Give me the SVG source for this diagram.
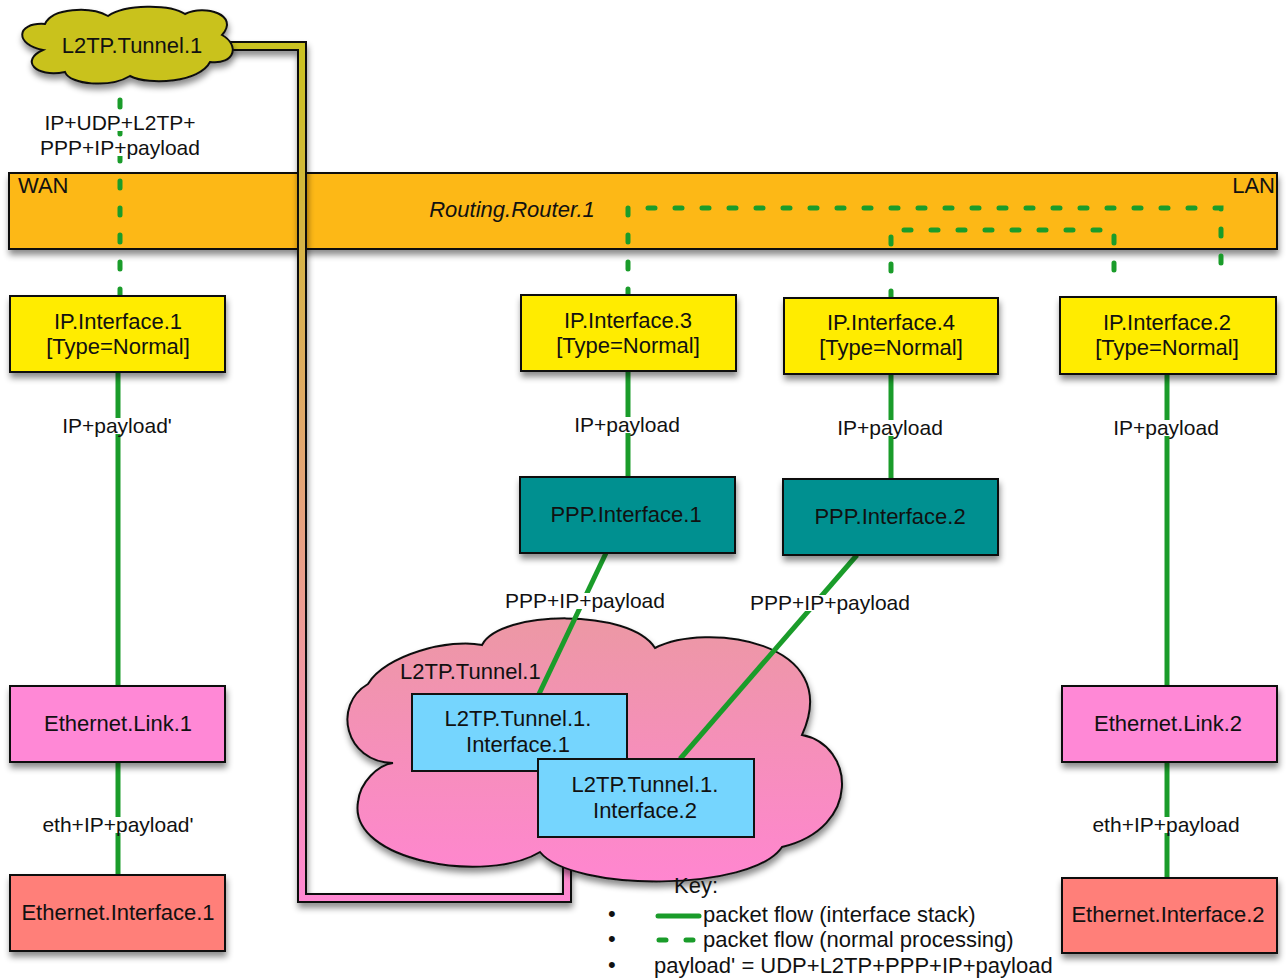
<svg xmlns="http://www.w3.org/2000/svg" width="1286" height="980" viewBox="0 0 1286 980">
<defs>
<filter id="sh" x="-10%" y="-10%" width="130%" height="140%">
<feDropShadow dx="1" dy="5" stdDeviation="3" flood-color="#000" flood-opacity="0.45"/>
</filter>
<linearGradient id="pipeG" gradientUnits="userSpaceOnUse" x1="0" y1="40" x2="0" y2="900">
<stop offset="0" stop-color="#c9c21f"/>
<stop offset="0.45" stop-color="#e0a86a"/>
<stop offset="1" stop-color="#ff88d2"/>
</linearGradient>
<linearGradient id="cloudG" x1="0" y1="0" x2="0" y2="1">
<stop offset="0" stop-color="#ec98a4"/>
<stop offset="1" stop-color="#ff86d0"/>
</linearGradient>
<style>
text{font-family:"Liberation Sans",Arial,Helvetica,sans-serif;fill:#111;}
.t{font-size:22px;text-anchor:middle;}
.l{font-size:21px;text-anchor:middle;}
.k{font-size:22px;}
.box{stroke:#111;stroke-width:2;filter:url(#sh);}
.ip{fill:#ffec00;}
.ppp{fill:#009090;}
.link{fill:#ff88d6;}
.eif{fill:#ff7f79;}
.tun{fill:#75d5fe;stroke:#111;stroke-width:2;}
.solid{stroke:#1a9c2a;stroke-width:5;fill:none;stroke-linecap:butt;}
.dash{stroke:#1a9c2a;stroke-width:5;fill:none;stroke-linecap:round;stroke-dasharray:7 20;}
.bg{fill:#fff;}
</style>
</defs>
<rect width="1286" height="980" fill="#fff"/>

<g id="router">
<rect x="9" y="173" width="1268" height="76" fill="#fdb814" stroke="#111" stroke-width="2" filter="url(#sh)"/>
<text class="k" x="18" y="193" font-size="21">WAN</text>
<text class="k" x="1275" y="193" text-anchor="end">LAN</text>
<text class="k" x="512" y="217" text-anchor="middle" font-style="italic">Routing.Router.1</text>
</g>

<g id="pipe" filter="url(#sh)">
<path d="M215,46 H302 V898 H567 V850" fill="none" stroke="#111" stroke-width="10" stroke-linejoin="miter"/>
<path d="M215,46 H302 V898 H567 V850" fill="none" stroke="url(#pipeG)" stroke-width="6" stroke-linejoin="miter"/>
</g>

<g id="tunnel">
<path d="M393,763 C345,762 332,705 368,684 C385,655 450,638 482,645 C500,610 630,608 655,648 C705,622 845,640 802,735 C855,745 862,828 782,847 C752,892 572,892 540,852 C488,884 348,862 358,802 C360,782 378,765 393,763 Z" fill="url(#cloudG)" stroke="#111" stroke-width="2" filter="url(#sh)"/>
<text class="k" x="400" y="679">L2TP.Tunnel.1</text>
</g>

<g id="connectors">
<path class="dash" d="M120,100 V296"/>
<path class="dash" d="M628,296 V208 H1221 V280"/>
<path class="dash" d="M891,298 V230 H1114 V278"/>
<path class="solid" d="M118,372 V686"/>
<path class="solid" d="M118,762 V875"/>
<path class="solid" d="M628,372 V477"/>
<path class="solid" d="M891,374 V479"/>
<path class="solid" d="M1167,374 V686"/>
<path class="solid" d="M1167,762 V878"/>
<path class="solid" d="M606,553 L539,694"/>
<path class="solid" d="M857,555 L680,759"/>
<rect class="bg" x="36" y="115" width="168" height="16"/>
<rect class="bg" x="32" y="140" width="176" height="16"/>
<text class="l" x="120" y="130">IP+UDP+L2TP+</text>
<text class="l" x="120" y="155">PPP+IP+payload</text>
<rect class="bg" x="61" y="418" width="114" height="16"/>
<text class="l" x="117" y="433">IP+payload'</text>
<rect class="bg" x="43" y="817" width="152" height="16"/>
<text class="l" x="118" y="832">eth+IP+payload'</text>
<rect class="bg" x="574" y="417" width="106" height="16"/>
<text class="l" x="627" y="432">IP+payload</text>
<rect class="bg" x="837" y="420" width="106" height="16"/>
<text class="l" x="890" y="435">IP+payload</text>
<rect class="bg" x="1113" y="420" width="106" height="16"/>
<text class="l" x="1166" y="435">IP+payload</text>
<rect class="bg" x="1092" y="817" width="148" height="16"/>
<text class="l" x="1166" y="832">eth+IP+payload</text>
<rect class="bg" x="503" y="593" width="164" height="16"/>
<text class="l" x="585" y="608">PPP+IP+payload</text>
<rect class="bg" x="748" y="595" width="164" height="16"/>
<text class="l" x="830" y="610">PPP+IP+payload</text>
</g>

<g id="tunnel-top">
<path d="M43,50 C15,45 15,22 45,24 C52,8 90,6 108,16 C125,4 170,4 185,14 C205,4 240,15 222,35 C240,45 235,65 210,62 C200,82 150,86 130,76 C110,88 70,85 65,72 C35,78 20,60 43,50 Z" fill="#c9c21f" stroke="#111" stroke-width="2" filter="url(#sh)"/>
<text class="t" x="132" y="53">L2TP.Tunnel.1</text>
</g>

<g id="ip1"><rect class="box ip" x="10" y="296" width="215" height="76"/>
<text class="t" x="118" y="329">IP.Interface.1</text><text class="t" x="118" y="354">[Type=Normal]</text></g>
<g id="ip3"><rect class="box ip" x="521" y="295" width="215" height="76"/>
<text class="t" x="628" y="328">IP.Interface.3</text><text class="t" x="628" y="353">[Type=Normal]</text></g>
<g id="ip4"><rect class="box ip" x="784" y="298" width="214" height="76"/>
<text class="t" x="891" y="330">IP.Interface.4</text><text class="t" x="891" y="355">[Type=Normal]</text></g>
<g id="ip2"><rect class="box ip" x="1060" y="297" width="216" height="77"/>
<text class="t" x="1167" y="330">IP.Interface.2</text><text class="t" x="1167" y="355">[Type=Normal]</text></g>

<g id="ppp1"><rect class="box ppp" x="520" y="477" width="215" height="76"/>
<text class="t" x="626" y="522">PPP.Interface.1</text></g>
<g id="ppp2"><rect class="box ppp" x="783" y="479" width="215" height="76"/>
<text class="t" x="890" y="524">PPP.Interface.2</text></g>

<g id="link1"><rect class="box link" x="10" y="686" width="215" height="76"/>
<text class="t" x="118" y="731">Ethernet.Link.1</text></g>
<g id="link2"><rect class="box link" x="1062" y="686" width="215" height="76"/>
<text class="t" x="1168" y="731">Ethernet.Link.2</text></g>
<g id="eif1"><rect class="box eif" x="10" y="875" width="215" height="76"/>
<text class="t" x="118" y="920">Ethernet.Interface.1</text></g>
<g id="eif2"><rect class="box eif" x="1062" y="878" width="215" height="75"/>
<text class="t" x="1168" y="922">Ethernet.Interface.2</text></g>

<g id="tif1"><rect class="tun" x="412" y="694" width="215" height="77"/>
<text class="t" x="518" y="726">L2TP.Tunnel.1.</text><text class="t" x="518" y="752">Interface.1</text></g>
<g id="tif2"><rect class="tun" x="538" y="759" width="216" height="78"/>
<text class="t" x="645" y="792">L2TP.Tunnel.1.</text><text class="t" x="645" y="818">Interface.2</text></g>

<g id="key">
<text class="k" x="674" y="893">Key:</text>
<text class="k" x="608" y="921" font-size="14">•</text>
<text class="k" x="608" y="946" font-size="14">•</text>
<text class="k" x="608" y="972" font-size="14">•</text>
<path d="M658,916 H699" stroke="#1a9c2a" stroke-width="5" stroke-linecap="round"/>
<path class="dash" d="M659,940 H700"/>
<text class="k" x="703" y="922">packet flow (interface stack)</text>
<text class="k" x="703" y="947">packet flow (normal processing)</text>
<text class="k" x="654" y="973">payload' = UDP+L2TP+PPP+IP+payload</text>
</g>
</svg>
